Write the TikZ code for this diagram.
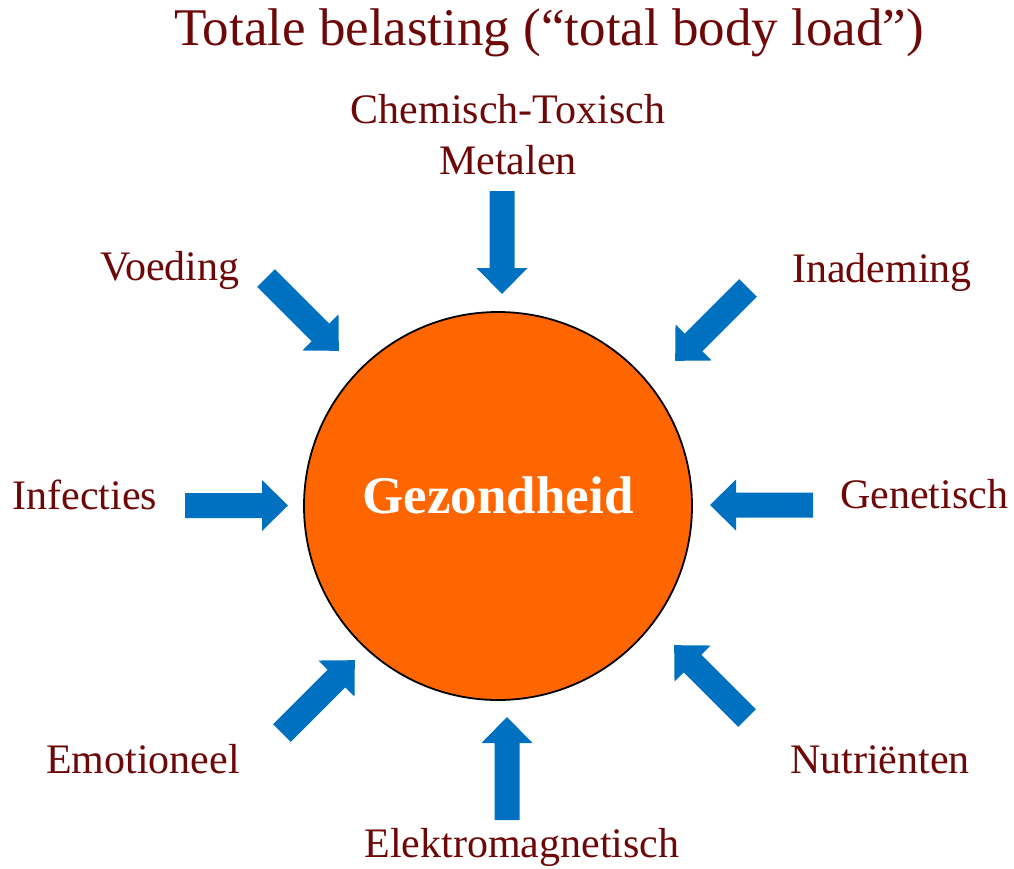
\documentclass[tikz,border=0pt]{standalone}
\usepackage{fontspec}
\setmainfont{Liberation Serif}
\definecolor{labelred}{RGB}{110,8,8}
\definecolor{arrowblue}{RGB}{0,112,192}
\definecolor{healthorange}{RGB}{255,102,0}
\tikzset{
  x=1pt, y=1pt,
  lbl/.style={inner sep=0pt, anchor=base, text=labelred, font=\fontsize{42}{50}\selectfont},
  titlelbl/.style={inner sep=0pt, anchor=base, text=labelred, font=\fontsize{53}{60}\selectfont},
  blockarrow/.pic={
    \fill[arrowblue] (0,-12.5) -- (77,-12.5) -- (77,-25.5) -- (103,0) -- (77,25.5) -- (77,12.5) -- (0,12.5) -- cycle;
  }
}
\begin{document}
\begin{tikzpicture}
\useasboundingbox (0,0) rectangle (1014,-868);
% title
\node[titlelbl] (title) at (549,-45) {Totale belasting (“total body load”)};
% central circle
\node[circle, draw=black, line width=1.8pt, fill=healthorange, minimum size=388pt, inner sep=0pt] (health) at (498,-506) {};
\node[inner sep=0pt, anchor=base, text=white, font=\fontsize{53}{60}\selectfont\bfseries] (healthtxt) at (498,-513) {Gezondheid};
% labels
\node[lbl] (chem) at (508,-123) {Chemisch-Toxisch};
\node[lbl] (metal) at (508,-174) {Metalen};
\node[lbl] (voeding) at (170,-280) {Voeding};
\node[lbl] (inademing) at (882,-282) {Inademing};
\node[lbl] (infecties) at (85,-509) {Infecties};
\node[lbl] (genetisch) at (924,-508) {Genetisch};
\node[lbl] (emotioneel) at (143,-773) {Emotioneel};
\node[lbl] (nutrienten) at (880,-773) {Nutriënten};
\node[lbl] (elektro) at (522,-857) {Elektromagnetisch};
% arrow start points
\coordinate (aTop) at (502,-191);
\coordinate (aBottom) at (507,-820);
\coordinate (aLeft) at (185,-505.5);
\coordinate (aRight) at (813,-505);
\coordinate (aUL) at (266,-278);
\coordinate (aUR) at (748,-288);
\coordinate (aLL) at (282,-733);
\coordinate (aLR) at (747,-718);
% arrows
\pic[rotate=-90] at (aTop) {blockarrow};
\pic[rotate=90] at (aBottom) {blockarrow};
\pic[rotate=0] at (aLeft) {blockarrow};
\pic[rotate=180] at (aRight) {blockarrow};
\pic[rotate=-45] at (aUL) {blockarrow};
\pic[rotate=-135] at (aUR) {blockarrow};
\pic[rotate=45] at (aLL) {blockarrow};
\pic[rotate=135] at (aLR) {blockarrow};
\end{tikzpicture}
\end{document}
